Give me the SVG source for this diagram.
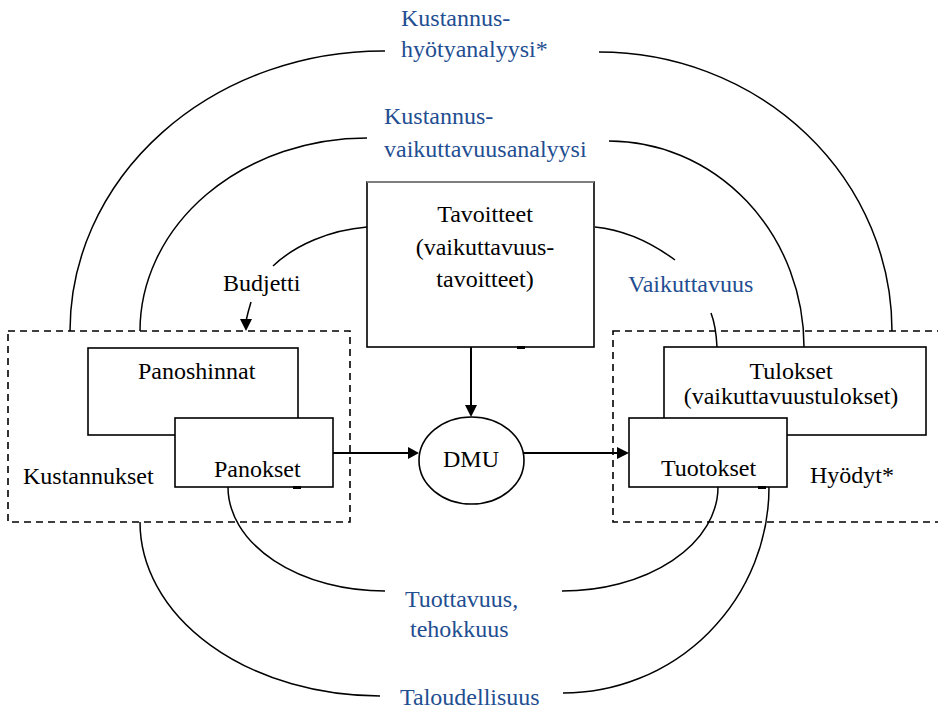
<svg xmlns="http://www.w3.org/2000/svg" width="938" height="711" viewBox="0 0 938 711">
<style>
text{font-family:"Liberation Serif","Times New Roman",serif;font-size:24px;fill:#000}
.blue{fill:#1f4e91}
.box{fill:#fff;stroke:#000;stroke-width:1.6}
.dash{fill:none;stroke:#000;stroke-width:1.6;stroke-dasharray:7 5}
.arc{fill:none;stroke:#000;stroke-width:1.5}
.ln{fill:none;stroke:#000;stroke-width:2}
.head{fill:#000}
.tick{fill:#000}
</style>
<rect width="938" height="711" fill="#fff"/>
<g id="connectors">
<path class="arc" d="M70,331 A313 280 0 0 1 385,51"/>
<path class="arc" d="M599,52 A293 279 0 0 1 892,331"/>
<path class="arc" d="M140,331 A227 193 0 0 1 367,138"/>
<path class="arc" d="M609,141 A195 206 0 0 1 804,347"/>
<path class="arc" d="M367,227 C330,230 295,245 273,266"/>
<path class="arc" d="M595,227 C625,230 652,243 675,260"/>
<path class="arc" d="M711,313 Q716,326 717,347"/>
<path class="arc" d="M228,487 A157 104 0 0 0 385,591"/>
<path class="arc" d="M562,591 A156 104 0 0 0 718,487"/>
<path class="arc" d="M140,522 A240 174 0 0 0 380,696"/>
<path class="arc" d="M563,693 A206 206 0 0 0 769,487"/>
<path class="arc" d="M251,302 Q248,312 246,321"/>
<polygon class="head" points="240,319 252,319 246,331"/>
<line class="ln" x1="471" y1="347" x2="471" y2="407"/>
<polygon class="head" points="465,405 477,405 471,417"/>
<line class="ln" x1="333" y1="453" x2="409" y2="453"/>
<polygon class="head" points="408,447 408,459 419,453"/>
<line class="ln" x1="524" y1="453" x2="618" y2="453"/>
<polygon class="head" points="617,447 617,459 629,453"/>
</g>
<g id="kustannukset">
<rect class="dash" x="8" y="331" width="342" height="191"/>
<text x="23" y="484">Kustannukset</text>
</g>
<g id="hyodyt">
<rect class="dash" x="613" y="331" width="345" height="191"/>
<text x="810" y="483">Hyödyt*</text>
</g>
<g id="tavoitteet">
<rect class="box" x="367" y="182" width="227" height="165"/>
<line x1="367" y1="182" x2="594" y2="182" stroke="#999" stroke-width="1.6"/>
<rect class="tick" x="517" y="346" width="8" height="3"/>
<text x="485" y="222" text-anchor="middle">Tavoitteet</text>
<text x="485" y="255" text-anchor="middle">(vaikuttavuus-</text>
<text x="485" y="287" text-anchor="middle">tavoitteet)</text>
</g>
<g id="panoshinnat">
<rect class="box" x="88" y="348" width="210" height="87"/>
<text x="138" y="379">Panoshinnat</text>
</g>
<g id="panokset">
<rect class="box" x="175" y="418" width="158" height="69"/>
<rect class="tick" x="293" y="486" width="8" height="3"/>
<text x="214" y="477">Panokset</text>
</g>
<g id="dmu">
<ellipse cx="471.5" cy="460.5" rx="52.5" ry="43.5" fill="#fff" stroke="#000" stroke-width="1.6"/>
<text x="471" y="467" text-anchor="middle">DMU</text>
</g>
<g id="tulokset">
<rect class="box" x="664" y="347" width="262" height="88"/>
<text x="791" y="379" text-anchor="middle">Tulokset</text>
<text x="791" y="404" text-anchor="middle">(vaikuttavuustulokset)</text>
</g>
<g id="tuotokset">
<rect class="box" x="629" y="418" width="158" height="69"/>
<rect class="tick" x="758" y="486" width="8" height="3"/>
<text x="661" y="476">Tuotokset</text>
</g>
<g id="labels">
<text class="blue" x="401" y="26">Kustannus-</text>
<text class="blue" x="401" y="57">hyötyanalyysi*</text>
<text class="blue" x="384" y="124">Kustannus-</text>
<text class="blue" x="384" y="157">vaikuttavuusanalyysi</text>
<text x="223" y="291">Budjetti</text>
<text class="blue" x="628" y="292">Vaikuttavuus</text>
<text class="blue" x="405" y="607">Tuottavuus,</text>
<text class="blue" x="410" y="637">tehokkuus</text>
<text class="blue" x="400" y="705">Taloudellisuus</text>
</g>
</svg>
